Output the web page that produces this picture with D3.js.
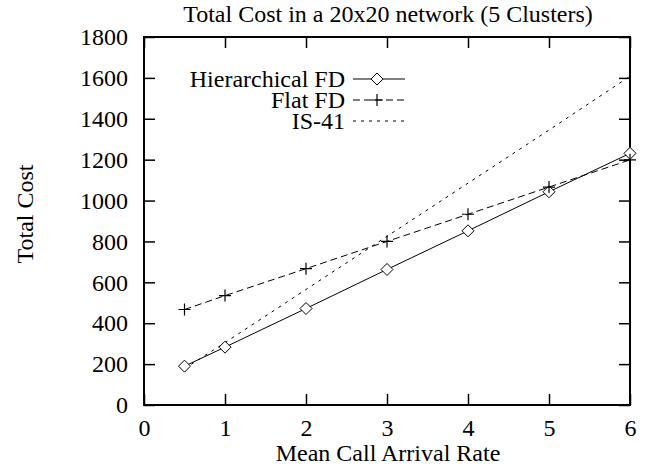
<!DOCTYPE html>
<html>
<head>
<meta charset="utf-8">
<script src="https://cdn.jsdelivr.net/npm/d3@7/dist/d3.min.js"></script>
<style>
  html, body { margin: 0; padding: 0; background: #fff; }
  svg { display: block; }
  text { font-family: "Liberation Serif", "Times New Roman", serif; fill: #000; }
</style>
</head>
<body>
<svg id="chart" width="647" height="466"></svg>
<script>
// Mean call arrival rate (x) and total cost for each scheme
const rates = [0.5, 1, 2, 3, 4, 5, 6];
const hierarchicalFD = [190, 283, 472, 663, 852, 1043, 1231];
const flatFD = [467, 535, 667, 800, 933, 1066, 1199];
const is41 = [178, 305, 565, 825, 1085, 1345, 1608];

const xTicks = [0, 1, 2, 3, 4, 5, 6];
const yTicks = [0, 200, 400, 600, 800, 1000, 1200, 1400, 1600, 1800];

const seriesNames = ["Hierarchical FD", "Flat FD", "IS-41"];

const svg = d3.select("#chart");
const plotLeft = 144, plotRight = 630, plotTop = 37, plotBottom = 405;

const x = d3.scaleLinear().domain([0, 6]).range([plotLeft, plotRight]);
const y = d3.scaleLinear().domain([0, 1800]).range([plotBottom, plotTop]);

const tickLen = 11;
const fontSize = 24;

// Axes: ticks point inward, mirrored on top and right
const axisBottom = d3.axisBottom(x).tickValues(xTicks).tickSize(-tickLen).tickPadding(tickLen + 3).tickFormat(d3.format("d"));
const axisTop = d3.axisTop(x).tickValues(xTicks).tickSize(-tickLen).tickFormat("");
const axisLeft = d3.axisLeft(y).tickValues(yTicks).tickSize(-tickLen).tickPadding(tickLen + 5).tickFormat(d3.format("d"));
const axisRight = d3.axisRight(y).tickValues(yTicks).tickSize(-tickLen).tickFormat("");

function styleAxis(g) {
  g.select(".domain").remove();
  g.selectAll(".tick line").attr("stroke", "#000").attr("stroke-width", 1.5);
  g.selectAll(".tick text").style("font-size", fontSize + "px").style("font-family", "Liberation Serif, serif").attr("fill", "#000");
}

svg.append("g").attr("transform", `translate(0,${plotBottom})`).call(axisBottom).call(styleAxis);
svg.append("g").attr("transform", `translate(0,${plotTop})`).call(axisTop).call(styleAxis);
svg.append("g").attr("transform", `translate(${plotLeft},0)`).call(axisLeft).call(styleAxis);
svg.append("g").attr("transform", `translate(${plotRight},0)`).call(axisRight).call(styleAxis);

// Plot frame
svg.append("rect")
  .attr("x", plotLeft).attr("y", plotTop)
  .attr("width", plotRight - plotLeft).attr("height", plotBottom - plotTop)
  .attr("fill", "none").attr("stroke", "#000").attr("stroke-width", 2);

// Titles
svg.append("text").attr("x", 388).attr("y", 22)
  .attr("text-anchor", "middle").style("font-size", fontSize + "px")
  .text("Total Cost in a 20x20 network (5 Clusters)");
svg.append("text").attr("x", 388).attr("y", 461)
  .attr("text-anchor", "middle").style("font-size", fontSize + "px")
  .text("Mean Call Arrival Rate");
svg.append("text")
  .attr("transform", `translate(33,214) rotate(-90)`)
  .attr("text-anchor", "middle").style("font-size", fontSize + "px")
  .text("Total Cost");

const line = d3.line().x(d => x(d[0])).y(d => y(d[1]));
const pairs = vals => rates.map((r, i) => [r, vals[i]]);

const series = [
  { name: seriesNames[0], values: hierarchicalFD, dash: null, marker: "diamond" },
  { name: seriesNames[1], values: flatFD, dash: "7,4", marker: "plus" },
  { name: seriesNames[2], values: is41, dash: "3,5", marker: null }
];

function drawMarker(g, kind, cx, cy) {
  if (kind === "diamond") {
    const s = 6;
    g.append("path")
      .attr("d", `M${cx},${cy - s}L${cx + s},${cy}L${cx},${cy + s}L${cx - s},${cy}Z`)
      .attr("fill", "#fff").attr("stroke", "#000").attr("stroke-width", 1);
  } else if (kind === "plus") {
    const s = 6;
    g.append("path")
      .attr("d", `M${cx - s},${cy}H${cx + s}M${cx},${cy - s}V${cy + s}`)
      .attr("fill", "none").attr("stroke", "#000").attr("stroke-width", 1.2);
  }
}

const plot = svg.append("g");
series.forEach(s => {
  plot.append("path")
    .datum(pairs(s.values))
    .attr("d", line)
    .attr("fill", "none").attr("stroke", "#000").attr("stroke-width", 1)
    .attr("stroke-dasharray", s.dash);
});
series.forEach(s => {
  if (!s.marker) return;
  pairs(s.values).forEach(p => drawMarker(plot, s.marker, x(p[0]), y(p[1])));
});

// Legend
const legend = svg.append("g");
const legendRows = [79, 100, 121];
series.forEach((s, i) => {
  const ly = legendRows[i];
  legend.append("text")
    .attr("x", 345).attr("y", ly).attr("dy", "0.33em")
    .attr("text-anchor", "end").style("font-size", fontSize + "px")
    .text(s.name);
  legend.append("line")
    .attr("x1", 353).attr("x2", 405).attr("y1", ly).attr("y2", ly)
    .attr("stroke", "#000").attr("stroke-width", 1)
    .attr("stroke-dasharray", s.dash);
  if (s.marker) drawMarker(legend, s.marker, 377, ly);
});
</script>
</body>
</html>
